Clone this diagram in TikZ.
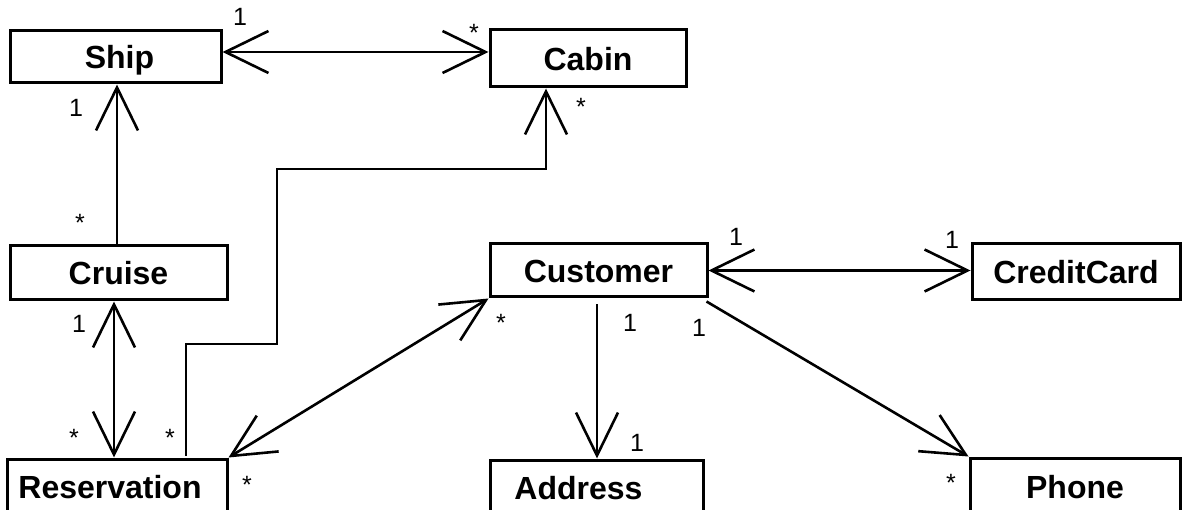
\documentclass[tikz,border=0pt]{standalone}
\usepackage{fontspec}
\setmainfont{Liberation Sans}
\usetikzlibrary{arrows.meta}
\tikzset{
  cls/.style={draw, line width=3pt, inner sep=0pt, text height=24pt, text depth=0pt, font=\fontsize{32}{32}\selectfont\bfseries},
  assoc/.style={line width=2.6pt, arrows={-Straight Barb[length=43pt,width=42pt]}},
  both/.style={line width=2.6pt, arrows={Straight Barb[length=43pt,width=42pt]-Straight Barb[length=43pt,width=42pt]}},
  mult/.style={font=\fontsize{25}{25}\selectfont, inner sep=0pt}
}
\begin{document}
\begin{tikzpicture}[x=1pt,y=-1pt]
\useasboundingbox (0,0) rectangle (1182,510);
% classes
\node[cls, minimum width=211pt, minimum height=52pt] (ship) at (115.5,57) {\hspace*{8pt}Ship};
\node[cls, minimum width=196pt, minimum height=57pt] (cabin) at (588,58.5) {Cabin};
\node[cls, minimum width=217pt, minimum height=54pt] (cruise) at (118.5,273) {Cruise};
\node[cls, minimum width=217pt, minimum height=53pt] (customer) at (598.5,270.5) {Customer};
\node[cls, minimum width=208pt, minimum height=56pt] (creditcard) at (1076,272) {CreditCard};
\node[cls, minimum width=220pt, minimum height=55pt] (reservation) at (117,486.5) {Reservation\hspace*{14pt}};
\node[cls, minimum width=213pt, minimum height=54pt] (address) at (596.5,487) {Address\hspace*{36pt}};
\node[cls, minimum width=210pt, minimum height=56pt] (phone) at (1075,486) {Phone};
% Ship <-> Cabin
\coordinate (sc) at ([yshift=5pt]ship.east);
\draw[both] (sc) -- (sc -| cabin.west);
% Cruise -> Ship
\coordinate (cs) at ([xshift=-1.5pt]cruise.north);
\draw[assoc] (cs) -- (cs |- ship.south);
% Cruise <-> Reservation
\coordinate (cr) at ([xshift=-4.5pt]cruise.south);
\draw[both] (cr) -- (cr |- reservation.north);
% Reservation -> Cabin
\coordinate (rc) at ([xshift=69pt,yshift=2pt]reservation.north);
\coordinate (k1) at (277,344);
\coordinate (k2) at (546,169);
\draw[assoc] (rc) |- (k1) |- (k2) -- (k2 |- cabin.south);
% Reservation <-> Customer
\draw[both] (reservation.north east) -- (customer.south west);
% Customer <-> CreditCard
\draw[both] (customer.east) -- (customer.east -| creditcard.west);
% Customer -> Address
\coordinate (ca) at ([xshift=-1.5pt,yshift=-6pt]customer.south);
\draw[assoc] (ca) -- (ca |- address.north);
% Customer -> Phone
\coordinate (cp) at ([xshift=-2pt,yshift=-3pt]customer.south east);
\draw[assoc] (cp) -- (phone.north west);
% multiplicities
\node[mult] (m1) at (240,17) {1};
\node[mult] (m2) at (474,33) {*};
\node[mult] (m3) at (76,108) {1};
\node[mult] (m4) at (581,107) {*};
\node[mult] (m5) at (80,223) {*};
\node[mult] (m6) at (79,324) {1};
\node[mult] (m7) at (74,438) {*};
\node[mult] (m8) at (170,438) {*};
\node[mult] (m9) at (247,485) {*};
\node[mult] (m10) at (501,323) {*};
\node[mult] (m11) at (630,323) {1};
\node[mult] (m12) at (699,328) {1};
\node[mult] (m13) at (736,237) {1};
\node[mult] (m14) at (952,240) {1};
\node[mult] (m15) at (637,443) {1};
\node[mult] (m16) at (951,483) {*};
\end{tikzpicture}
\end{document}
